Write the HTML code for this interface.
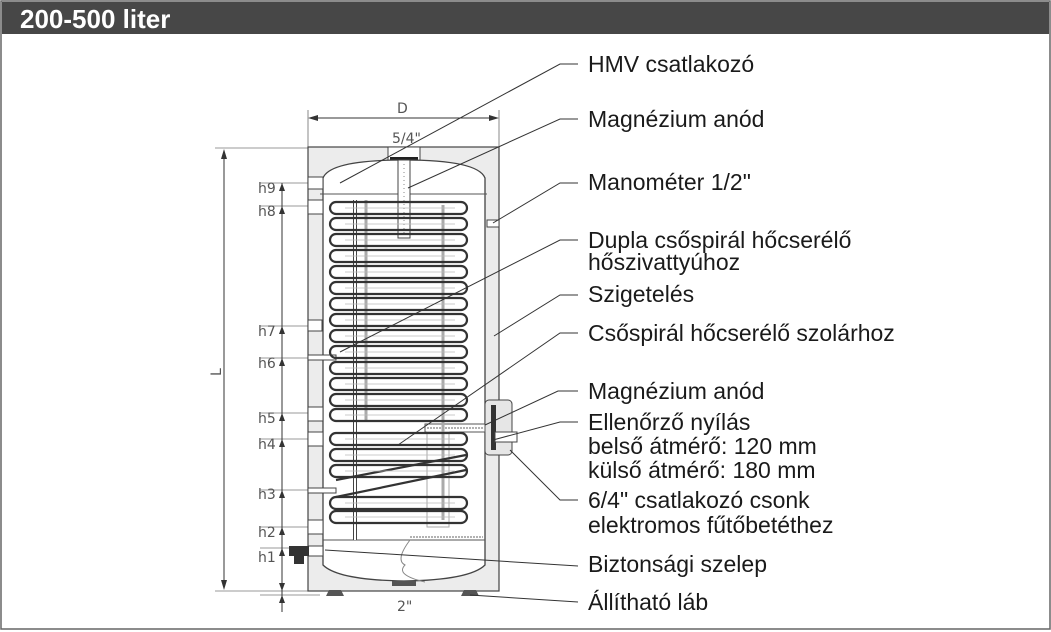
<!DOCTYPE html>
<html><head><meta charset="utf-8"><style>
html,body{margin:0;padding:0;background:#fff;width:1051px;height:632px;overflow:hidden}
svg{display:block}
.l{font-family:"Liberation Sans",Arial,sans-serif;font-size:23px;fill:#1a1a1a}
.s{font-family:"DejaVu Sans","Liberation Sans",sans-serif;font-size:14px;fill:#555}
</style></head><body>
<svg width="1051" height="632" viewBox="0 0 1051 632" xmlns="http://www.w3.org/2000/svg">
<rect x="1" y="1" width="1049" height="628" fill="#fff" stroke="#666" stroke-width="1.5"/>
<rect x="2" y="2" width="1047" height="32" fill="#474747"/>
<text x="20" y="28" font-family="Liberation Sans,Arial,sans-serif" font-weight="bold" font-size="26" fill="#fff">200-500 liter</text>

<line x1="308" y1="110" x2="308" y2="147" stroke="#888"/>
<line x1="499" y1="110" x2="499" y2="147" stroke="#888"/>
<line x1="312" y1="118" x2="495" y2="118" stroke="#333"/>
<path d="M308 118 l10 -3 v6z M499 118 l-10 -3 v6z" fill="#333"/>
<text x="397" y="113" class="s">D</text>
<text x="392" y="143" class="s">5/4"</text>

<line x1="215" y1="148" x2="308" y2="148" stroke="#999"/>
<line x1="215" y1="591" x2="308" y2="591" stroke="#999"/>
<line x1="224" y1="152" x2="224" y2="587" stroke="#333"/>
<path d="M224 149 l-3 10 h6z M224 590 l-3 -10 h6z" fill="#333"/>
<text x="216" y="381" class="s" transform="rotate(-90 216 376)">L</text>

<g stroke="#999">
<line x1="260" y1="183" x2="320" y2="183"/><line x1="260" y1="206" x2="320" y2="206"/>
<line x1="260" y1="326" x2="320" y2="326"/><line x1="260" y1="358" x2="320" y2="358"/>
<line x1="260" y1="413" x2="320" y2="413"/><line x1="260" y1="439" x2="320" y2="439"/>
<line x1="260" y1="490" x2="320" y2="490"/><line x1="260" y1="527" x2="320" y2="527"/>
<line x1="260" y1="548" x2="320" y2="548"/><line x1="260" y1="595" x2="320" y2="595"/>
</g>
<line x1="282" y1="183" x2="282" y2="612" stroke="#333"/>
<g fill="#333">
<path d="M282 183 l-3 8 h6z M282 206 l-3 8 h6z M282 326 l-3 8 h6z M282 358 l-3 8 h6z M282 413 l-3 8 h6z M282 439 l-3 8 h6z M282 490 l-3 8 h6z M282 527 l-3 8 h6z M282 548 l-3 8 h6z M282 595 l-3 8 h6z M282 591 l-3 -8 h6z"/>
</g>
<g class="s">
<text x="258" y="193">h9</text><text x="258" y="216">h8</text><text x="258" y="336">h7</text>
<text x="258" y="368">h6</text><text x="258" y="423">h5</text><text x="258" y="449">h4</text>
<text x="258" y="499">h3</text><text x="258" y="537">h2</text><text x="258" y="562">h1</text>
</g>

<rect x="308" y="147" width="191" height="444" fill="#ececec" stroke="#444" stroke-width="1.2"/>
<rect x="388" y="147" width="32" height="14" fill="#fff" stroke="#444"/>
<rect x="390" y="157" width="28" height="4" fill="#222"/>
<path d="M323 178 Q330 160 404 160 Q478 160 485 178 V565 Q470 580 404 581 Q338 580 323 565 Z" fill="#fff" stroke="#444" stroke-width="1.3"/>
<line x1="320" y1="194" x2="487" y2="194" stroke="#555"/>
<line x1="323" y1="540" x2="485" y2="540" stroke="#555"/>
<path d="M410 540 Q395 560 405 565 Q395 575 425 582" fill="none" stroke="#888"/>
<rect x="398" y="160" width="12" height="78" fill="#fff" stroke="#444"/>
<line x1="404" y1="164" x2="404" y2="236" stroke="#888" stroke-dasharray="1 3"/>
<g fill="#fff" stroke="#444">
<rect x="308" y="177" width="15" height="12"/><rect x="308" y="200" width="15" height="14"/>
<rect x="308" y="320" width="14" height="11"/><rect x="308" y="355" width="28" height="5"/>
<rect x="308" y="407" width="15" height="14"/><rect x="308" y="432" width="15" height="14"/>
<rect x="308" y="488" width="28" height="5"/><rect x="308" y="520" width="15" height="14"/>
<rect x="308" y="546" width="15" height="10"/>
<rect x="487" y="220" width="12" height="7"/>
</g>
<rect x="289" y="546" width="20" height="10" fill="#333"/>
<rect x="294" y="556" width="10" height="8" fill="#333"/>
<rect x="485" y="400" width="27" height="55" rx="4" fill="#e6e6e6" stroke="#444"/>
<rect x="491" y="405" width="5" height="45" fill="#333"/>
<rect x="495" y="432" width="22" height="10" fill="#fff" stroke="#444"/>
<rect x="425" y="424" width="60" height="8" fill="#fff" stroke="#555"/>
<line x1="427" y1="428" x2="483" y2="428" stroke="#666" stroke-dasharray="2 1"/>
<rect x="427" y="432" width="22" height="95" fill="none" stroke="#aaa"/>
<line x1="410" y1="537" x2="483" y2="537" stroke="#666" stroke-dasharray="2 1"/>
<line x1="355" y1="200" x2="355" y2="540" stroke="#444" stroke-width="4"/>
<line x1="355" y1="200" x2="355" y2="540" stroke="#fff" stroke-width="2"/>
<line x1="366" y1="200" x2="366" y2="420" stroke="#aaa" stroke-width="3"/>
<line x1="443" y1="205" x2="443" y2="520" stroke="#aaa" stroke-width="3"/>
<g id="coils" fill="none" stroke="#333" stroke-width="2.2">
<rect x="330" y="202" width="137" height="12" rx="6"/><rect x="330" y="218" width="137" height="12" rx="6"/>
<rect x="330" y="234" width="137" height="12" rx="6"/><rect x="330" y="250" width="137" height="12" rx="6"/>
<rect x="330" y="266" width="137" height="12" rx="6"/><rect x="330" y="282" width="137" height="12" rx="6"/>
<rect x="330" y="298" width="137" height="12" rx="6"/><rect x="330" y="314" width="137" height="12" rx="6"/>
<rect x="330" y="330" width="137" height="12" rx="6"/><rect x="330" y="346" width="137" height="12" rx="6"/>
<rect x="330" y="362" width="137" height="12" rx="6"/><rect x="330" y="378" width="137" height="12" rx="6"/>
<rect x="330" y="394" width="137" height="12" rx="6"/><rect x="330" y="409" width="137" height="12" rx="6"/>
<rect x="330" y="433" width="137" height="12" rx="6"/><rect x="330" y="449" width="137" height="12" rx="6"/>
<rect x="330" y="465" width="137" height="12" rx="6"/><rect x="330" y="497" width="137" height="12" rx="6"/>
<rect x="330" y="511" width="137" height="12" rx="6"/>
<path d="M336 480 L466 455 M336 497 L466 470"/>
</g>
<g fill="none" stroke="#bbb" stroke-width="0.8">
<path d="M345 208 H455 M345 224 H455 M345 240 H455 M345 256 H455 M345 272 H455 M345 288 H455 M345 304 H455 M345 320 H455 M345 336 H455 M345 352 H455 M345 368 H455 M345 384 H455 M345 400 H455 M345 415 H455 M345 439 H455 M345 455 H455 M345 471 H455 M345 503 H455 M345 517 H455"/>
</g>
<g fill="#555">
<path d="M329 590 h12 l3 6 h-18z M392 581 h24 v5 h-24z M464 590 h12 l3 6 h-18z"/>
</g>
<text x="397" y="611" class="s">2"</text>

<g stroke="#333" stroke-width="1" fill="none">
<path d="M578 64 H560 L340 183"/>
<path d="M578 119 H560 L408 188"/>
<path d="M578 183 H560 L493 223"/>
<path d="M578 240 H560 L340 352"/>
<path d="M578 295 H560 L494 336"/>
<path d="M578 333 H560 L398 445"/>
<path d="M578 391 H558 L485 425"/>
<path d="M578 422 H560 L493 440"/>
<path d="M578 500 H560 L510 450"/>
<path d="M578 566 L325 550"/>
<path d="M578 602 L470 595"/>
</g>
<g class="l">
<text x="588" y="72">HMV csatlakozó</text>
<text x="588" y="127">Magnézium anód</text>
<text x="588" y="190">Manométer 1/2"</text>
<text x="588" y="248">Dupla csőspirál hőcserélő</text>
<text x="588" y="270">hőszivattyúhoz</text>
<text x="588" y="302">Szigetelés</text>
<text x="588" y="341">Csőspirál hőcserélő szolárhoz</text>
<text x="588" y="399">Magnézium anód</text>
<text x="588" y="430">Ellenőrző nyílás</text>
<text x="588" y="454">belső átmérő: 120 mm</text>
<text x="588" y="478">külső átmérő: 180 mm</text>
<text x="588" y="508">6/4" csatlakozó csonk</text>
<text x="588" y="533">elektromos fűtőbetéthez</text>
<text x="588" y="572">Biztonsági szelep</text>
<text x="588" y="610">Állítható láb</text>
</g>
</svg>
</body></html>
